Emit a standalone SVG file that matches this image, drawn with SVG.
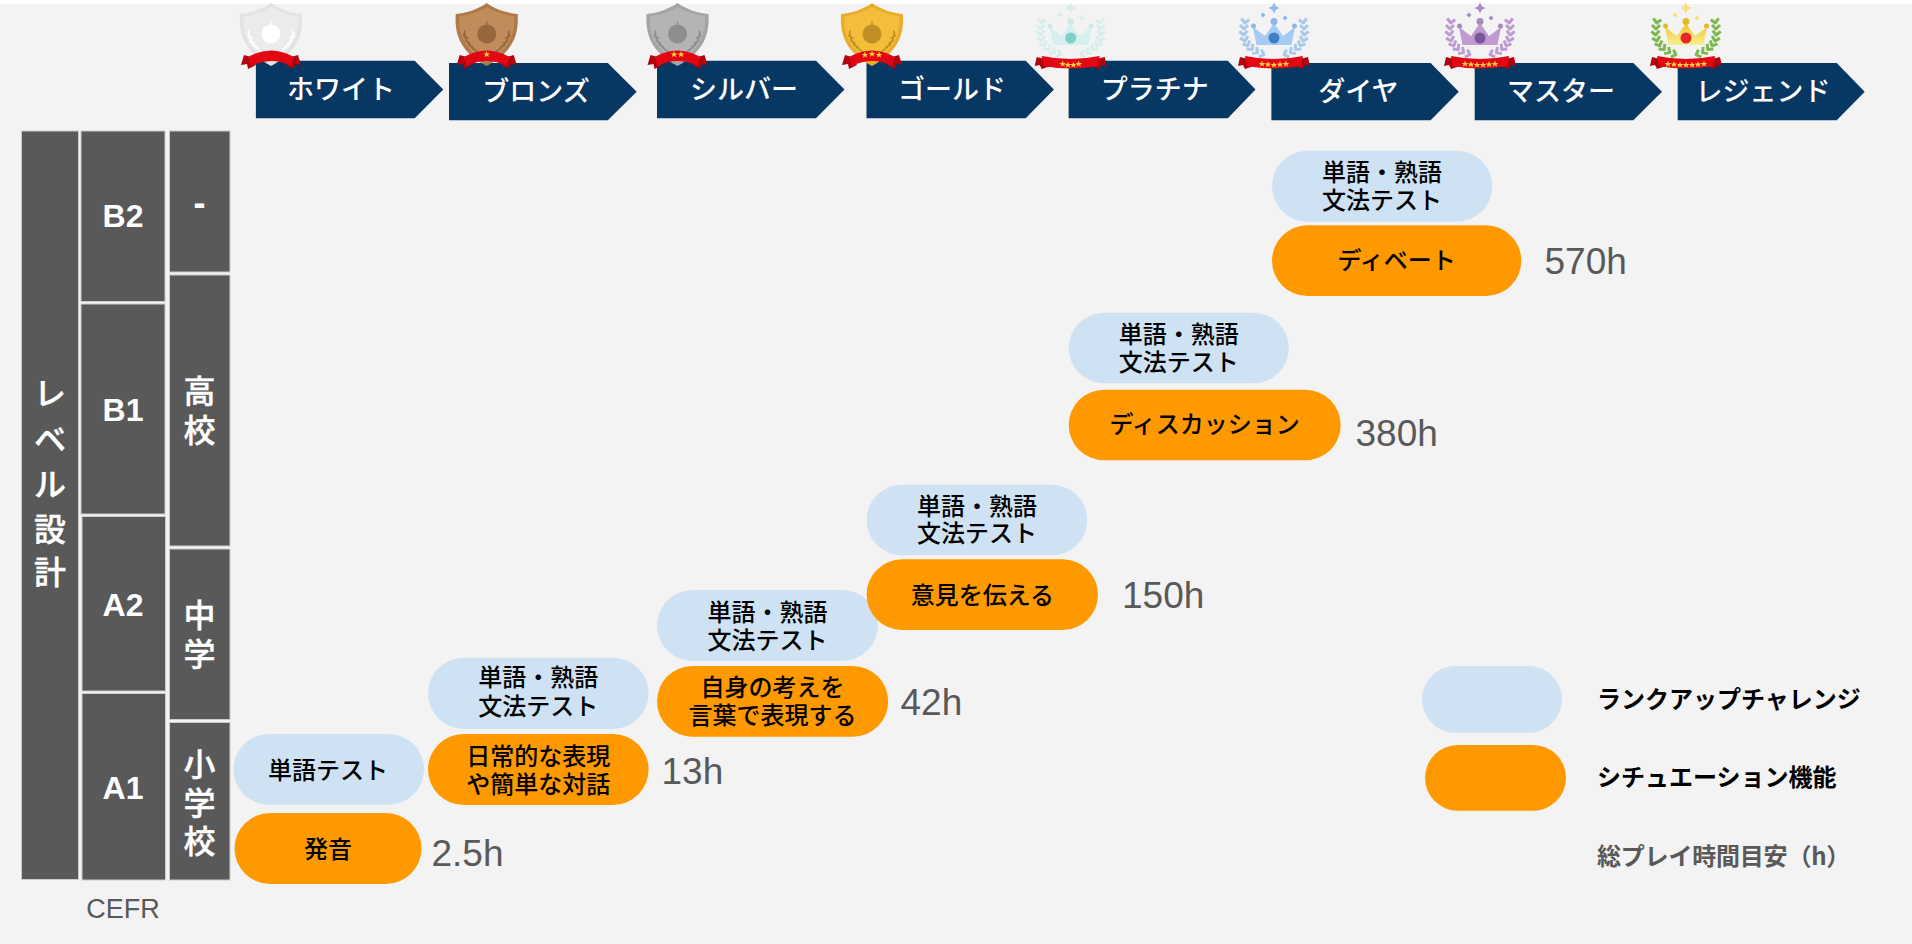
<svg xmlns="http://www.w3.org/2000/svg" width="1912" height="944" viewBox="0 0 1912 944">
<style>
text{font-family:"Noto Sans CJK JP","Liberation Sans",sans-serif}
.bg{fill:#f3f3f3}
.bar{fill:#073763}
.lab{fill:#fff;font-size:27px;font-weight:500;text-anchor:middle}
.box{fill:#595959;stroke:#ccc;stroke-width:1}
.v{fill:#fff;stroke:#fff;stroke-width:.4;font-size:32px;font-weight:500;text-anchor:middle}
.cefr{fill:#fff;font-family:"Liberation Sans",sans-serif;font-size:32px;font-weight:700;text-anchor:middle}
.blue{fill:#cfe2f3}
.org{fill:#f90}
.t{fill:#000;font-size:24px;font-weight:500;text-anchor:middle}
.h{fill:#595959;font-family:"Liberation Sans",sans-serif;font-size:37px}
.leg{font-size:24px;font-weight:700;fill:#000}
.s1{fill:var(--a)}.s2{fill:var(--b)}.s3{fill:var(--c)}
.w{fill:none;stroke:var(--c);stroke-width:1.6;stroke-linecap:round}
.rib{fill:#e30613}
.ribd{fill:#b0040e}
.st{fill:#ffd23c}
.lf{fill:none;stroke:var(--l);stroke-width:3;stroke-linejoin:round}
.cr{fill:var(--a)}.jw{fill:var(--j)}.bl{fill:var(--b)}.sp{fill:var(--c)}
</style>
<defs>
<path id="star" d="M0-3.400 .9-1 3.300-1 1.400.4 2.100 2.800 0 1.300 -2.100 2.800 -1.400.4 -3.300-1 -.9-1Z"/>
<g id="shield">
<path class="s1" d="M0,0C8,6 20,10 31,11C32,30 28,48 0,63C-28,48 -32,30 -31,11C-20,10 -8,6 0,0Z"/>
<path class="s2" d="M0,4C8,9 18,12 27.500,13.500C28,30 25,45 0,59C-25,45 -28,30 -27.500,13.500C-18,12 -8,9 0,4Z"/>
<circle class="s3" cy="31" r="9.500"/>
<rect class="s3" x="-.7" y="18" width="1.400" height="5"/>
<path class="w" d="M-22,28C-23,36 -18,43 -9,49M22,28C23,36 18,43 9,49M-23,33l4,2M-21,38l4,2M-18,42l4,2M-23,33l1,-4M23,33l-4,2M21,38l-4,2M18,42l-4,2M23,33l-1,-4"/>
</g>
<g id="rib1">
<path class="ribd" d="M-20,54-27,52-30,62-24,61-23,66-15,62Z"/>
<path class="ribd" d="M20,54 27,52 30,62 24,61 23,66 15,62Z"/>
<path class="rib" d="M-23,54Q0,41 23,54L20,63Q0,53 -20,63Z"/>
</g>
<g id="laurelL">
<path class="lf" d="M-4,-2 0,2 4,-2" transform="translate(-29,21) rotate(8)"/>
<path class="lf" d="M-4,-2 0,2 4,-2" transform="translate(-30,27)"/>
<path class="lf" d="M-4,-2 0,2 4,-2" transform="translate(-30.500,33) rotate(-5)"/>
<path class="lf" d="M-4,-2 0,2 4,-2" transform="translate(-29.500,39) rotate(-15)"/>
<path class="lf" d="M-4,-2 0,2 4,-2" transform="translate(-27,44) rotate(-25)"/>
<path class="lf" d="M-4,-2 0,2 4,-2" transform="translate(-23,48) rotate(-40)"/>
<path class="lf" d="M-4,-2 0,2 4,-2" transform="translate(-18,51.500) rotate(-55)"/>
<path class="lf" d="M-4,-2 0,2 4,-2" transform="translate(-12,54) rotate(-70)"/>
</g>
<g id="crown">
<use href="#laurelL"/>
<use href="#laurelL" transform="scale(-1,1)"/>
<path class="sp" d="M0,2.500 1.800,6.200 5.500,8 1.800,9.800 0,13.500 -1.800,9.800 -5.500,8 -1.800,6.200Z"/>
<path class="sp" d="M-11,12.500 -8.500,15 -11,17.500 -13.500,15ZM11,15.500 13.500,18 11,20.500 8.500,18Z"/>
<path class="cr" d="M-17.500,45-21,27-9,36 0,23 9,36 21,27 17.500,45Z"/>
<circle class="bl" cy="21.500" r="3.500"/><circle class="bl" cx="-20.500" cy="26" r="2.500"/><circle class="bl" cx="20.500" cy="26" r="2.500"/>
<circle class="jw" cy="38" r="5.500"/>
<path class="ribd" d="M-26,59-34,57-36,66-31,65-29,69-20,66Z"/>
<path class="ribd" d="M26,59 34,57 36,66 31,65 29,69 20,66Z"/>
<path class="rib" d="M-29,56Q0,62 29,56L27,66Q0,71 -27,66Z"/>
</g>
<linearGradient id="gold" x1="0" x2="0" y1="0" y2="1"><stop offset="0" stop-color="#eec82e"/><stop offset="1" stop-color="#f8ee90"/></linearGradient>
</defs>
<rect class="bg" x="0" y="4" width="1912" height="940"/>

<g id="rank-white"><path class="bar" d="M255.900,60.700H414.700L443.300,89.500 414.700,118.300H255.900Z"/><text class="lab" x="341" y="98.500">ホワイト</text>
<g transform="translate(271,3)" style="--a:#e3e3e3;--b:#ebebeb;--c:#fff"><use href="#shield"/><use href="#rib1"/></g></g>
<g id="rank-bronze"><path class="bar" d="M449,63H607.800L636.700,91.700 607.800,120.300H449Z"/><text class="lab" x="536" y="101">ブロンズ</text>
<g transform="translate(486.700,3)" style="--a:#ae7a48;--b:#c18c5b;--c:#96663c"><use href="#shield"/><use href="#rib1"/><use href="#star" class="st" x="0" y="51.500"/></g></g>
<g id="rank-silver"><path class="bar" d="M657,60.700H816L844.500,89.500 816,118.300H657Z"/><text class="lab" x="744" y="98.500">シルバー</text>
<g transform="translate(677.500,3)" style="--a:#a4a4a4;--b:#b4b4b4;--c:#8e8e8e"><use href="#shield"/><use href="#rib1"/><use href="#star" class="st" x="-3.500" y="51.500"/><use href="#star" class="st" x="3.500" y="51.500"/></g></g>
<g id="rank-gold"><path class="bar" d="M866.500,60.700H1025.700L1053.900,89.500 1025.700,118.300H866.500Z"/><text class="lab" x="952" y="98.500">ゴールド</text>
<g transform="translate(872,3)" style="--a:#e8ad2c;--b:#f4be3a;--c:#c28f26"><use href="#shield"/><use href="#rib1"/><use href="#star" class="st" x="-7" y="52"/><use href="#star" class="st" x="0" y="51"/><use href="#star" class="st" x="7" y="52"/></g></g>
<g id="rank-platinum"><path class="bar" d="M1068.600,60.700H1227.800L1255.500,89.500 1227.800,118.300H1068.600Z"/><text class="lab" x="1154.700" y="98.500">プラチナ</text>
<g transform="translate(1070.700,0)" style="--a:#d5f0ee;--b:#cfeae8;--c:#d5eeec;--l:#d8eeec;--j:#7fcfcb"><use href="#crown"/><use href="#star" class="st" x="-8" y="64"/><use href="#star" class="st" x="-2.700" y="65"/><use href="#star" class="st" x="2.700" y="65"/><use href="#star" class="st" x="8" y="64"/></g></g>
<g id="rank-diamond"><path class="bar" d="M1271.400,63H1430.600L1458.800,91.700 1430.600,120.300H1271.400Z"/><text class="lab" x="1358.400" y="101">ダイヤ</text>
<g transform="translate(1274,0)" style="--a:#a5cbf2;--b:#8db8e8;--c:#8db8e8;--l:#a8c8ec;--j:#3f7fc8"><use href="#crown"/><use href="#star" class="st" x="-12" y="64"/><use href="#star" class="st" x="-6" y="64.500"/><use href="#star" class="st" x="0" y="65"/><use href="#star" class="st" x="6" y="64.500"/><use href="#star" class="st" x="12" y="64"/></g></g>
<g id="rank-master"><path class="bar" d="M1474.700,63H1633.300L1662,91.700 1633.300,120.300H1474.700Z"/><text class="lab" x="1561" y="101">マスター</text>
<g transform="translate(1480,0)" style="--a:#bf9bd0;--b:#a98abf;--c:#a98abf;--l:#be9bd0;--j:#7a569c"><use href="#crown"/><use href="#star" class="st" x="-15" y="64"/><use href="#star" class="st" x="-9" y="64.500"/><use href="#star" class="st" x="-3" y="65"/><use href="#star" class="st" x="3" y="65"/><use href="#star" class="st" x="9" y="64.500"/><use href="#star" class="st" x="15" y="64"/></g></g>
<g id="rank-legend"><path class="bar" d="M1677.700,63H1836.700L1864.700,91.700 1836.700,120.300H1677.700Z"/><text class="lab" x="1763" y="101">レジェンド</text>
<g transform="translate(1686,0)" style="--a:url(#gold);--b:#e2bb2a;--c:#f7e070;--l:#7db84d;--j:#e8262d"><use href="#crown"/><use href="#star" class="st" x="-18" y="64"/><use href="#star" class="st" x="-12" y="64.500"/><use href="#star" class="st" x="-6" y="65"/><use href="#star" class="st" x="0" y="65"/><use href="#star" class="st" x="6" y="65"/><use href="#star" class="st" x="12" y="64.500"/><use href="#star" class="st" x="18" y="64"/></g></g>

<g id="col-level"><rect class="box" x="21.500" y="131" width="57" height="748.500"/>
<text class="v"><tspan x="50" y="405">レ</tspan><tspan x="50" y="450.500">ベ</tspan><tspan x="50" y="495.500">ル</tspan><tspan x="50" y="541">設</tspan><tspan x="50" y="584">計</tspan></text></g>
<g id="cefr-b2"><rect class="box" x="81" y="131" width="84" height="170.500"/><text class="cefr" x="123" y="227.300">B2</text></g>
<g id="cefr-b1"><rect class="box" x="81" y="304" width="84" height="210"/><text class="cefr" x="123" y="421">B1</text></g>
<g id="cefr-a2"><rect class="box" x="82" y="516.500" width="83.500" height="174.500"/><text class="cefr" x="123" y="616">A2</text></g>
<g id="cefr-a1"><rect class="box" x="82" y="693.500" width="83.500" height="186.500"/><text class="cefr" x="123" y="799">A1</text></g>
<g id="school-none"><rect class="box" x="169.500" y="131" width="60.500" height="141"/><text class="cefr" x="199.600" y="214.500" style="font-size:36px">-</text></g>
<g id="school-high"><rect class="box" x="169.500" y="275" width="60.500" height="271"/><text class="v"><tspan x="199.600" y="403">高</tspan><tspan x="199.600" y="441.500">校</tspan></text></g>
<g id="school-middle"><rect class="box" x="169.500" y="549" width="60.500" height="170.500"/><text class="v"><tspan x="199.600" y="627">中</tspan><tspan x="199.600" y="665.500">学</tspan></text></g>
<g id="school-elementary"><rect class="box" x="169.500" y="722.500" width="60.500" height="157.500"/><text class="v"><tspan x="199.600" y="776">小</tspan><tspan x="199.600" y="814.500">学</tspan><tspan x="199.600" y="853">校</tspan></text></g>
<text id="cefr-label" x="123" y="917.700" text-anchor="middle" style="font-family:'Liberation Sans',sans-serif;font-size:27px;fill:#595959">CEFR</text>

<g id="step1-test"><rect class="blue" x="233.500" y="734" width="190.500" height="70.700" rx="35.350"/><text class="t" x="328" y="778.500">単語テスト</text></g>
<g id="step1-func"><rect class="org" x="234.500" y="813" width="187" height="71" rx="35.500"/><text class="t" x="328" y="858">発音</text></g>
<text id="step1-hours" class="h" x="431.500" y="866">2.5h</text>

<g id="step2-test"><rect class="blue" x="428" y="657.700" width="220.600" height="71.300" rx="35.650"/><text class="t"><tspan x="538.300" y="686">単語・熟語</tspan><tspan x="538.300" y="714.500">文法テスト</tspan></text></g>
<g id="step2-func"><rect class="org" x="428" y="734" width="220.600" height="71" rx="35.500"/><text class="t"><tspan x="538.300" y="765">日常的な表現</tspan><tspan x="538.300" y="793">や簡単な対話</tspan></text></g>
<text id="step2-hours" class="h" x="661.500" y="783.500">13h</text>

<g id="step3-test"><rect class="blue" x="657" y="590" width="220.900" height="71" rx="35.500"/><text class="t"><tspan x="767.500" y="620.500">単語・熟語</tspan><tspan x="767.500" y="648.500">文法テスト</tspan></text></g>
<g id="step3-func"><rect class="org" x="657" y="666" width="231.200" height="70.700" rx="35.350"/><text class="t"><tspan x="772.600" y="695.700">自身の考えを</tspan><tspan x="772.600" y="724">言葉で表現する</tspan></text></g>
<text id="step3-hours" class="h" x="900.500" y="715">42h</text>

<g id="step4-test"><rect class="blue" x="866.600" y="484.700" width="220.600" height="70.600" rx="35.300"/><text class="t"><tspan x="976.900" y="514.500">単語・熟語</tspan><tspan x="976.900" y="542">文法テスト</tspan></text></g>
<g id="step4-func"><rect class="org" x="866.600" y="559.300" width="231.400" height="70.700" rx="35.350"/><text class="t" x="982.300" y="603.500">意見を伝える</text></g>
<text id="step4-hours" class="h" x="1122" y="608">150h</text>

<g id="step5-test"><rect class="blue" x="1068.700" y="312.700" width="220.200" height="70.600" rx="35.300"/><text class="t"><tspan x="1178.800" y="343">単語・熟語</tspan><tspan x="1178.800" y="371">文法テスト</tspan></text></g>
<g id="step5-func"><rect class="org" x="1068.700" y="389.700" width="272" height="70.600" rx="35.300"/><text class="t" x="1204.700" y="433">ディスカッション</text></g>
<text id="step5-hours" class="h" x="1355.500" y="446">380h</text>

<g id="step6-test"><rect class="blue" x="1272" y="150.700" width="220.300" height="71" rx="35.500"/><text class="t"><tspan x="1382" y="181">単語・熟語</tspan><tspan x="1382" y="209">文法テスト</tspan></text></g>
<g id="step6-func"><rect class="org" x="1272" y="225.300" width="249.300" height="70.700" rx="35.350"/><text class="t" x="1396.600" y="269">ディベート</text></g>
<text id="step6-hours" class="h" x="1544.500" y="274">570h</text>

<g id="legend-test"><rect class="blue" x="1422" y="666" width="140" height="66.700" rx="33.350"/><text class="leg" x="1597" y="708">ランクアップチャレンジ</text></g>
<g id="legend-func"><rect class="org" x="1425" y="745" width="141" height="65.700" rx="32.850"/><text class="leg" x="1597" y="786">シチュエーション機能</text></g>
<text id="legend-hours" class="leg" x="1597" y="865" letter-spacing="-.2" style="fill:#595959">総プレイ時間目安（h）</text>
</svg>
